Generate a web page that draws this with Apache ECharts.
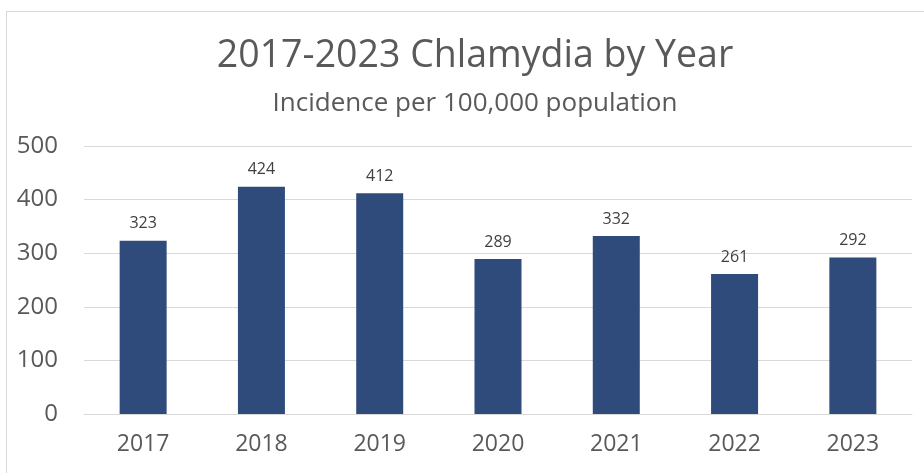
<!DOCTYPE html>
<html><head><meta charset="utf-8">
<script src="https://cdn.jsdelivr.net/npm/echarts@6/dist/echarts.min.js"></script>
<style>html,body{margin:0;padding:0;background:#fff}#c{width:924px;height:473px}
#frame{position:absolute;left:6px;top:11px;width:930px;height:480px;border-left:1px solid #d9d9d9;border-top:1px solid #d9d9d9;pointer-events:none}</style>
</head><body><div id="c"></div><div id="frame"></div>
<script>
const categories = ['2017','2018','2019','2020','2021','2022','2023'];
const incidence = [323, 424, 412, 289, 332, 261, 292];
const yTicks = {min:0, max:500, interval:100};
const titleText = '2017-2023 Chlamydia by Year';
const subtitleText = 'Incidence per 100,000 population';

const chart = echarts.init(document.getElementById('c'));
chart.setOption({
  animation:false,
  backgroundColor:'#fff',
  title:{
    text:titleText, subtext:subtitleText, left:470, textAlign:'center', top:32, itemGap:16,
    textStyle:{fontFamily:'Open Sans', fontSize:37.5, fontWeight:'normal', color:'#595959'},
    subtextStyle:{fontFamily:'Open Sans', fontSize:26, color:'#595959'}
  },
  grid:{left:84, right:12, top:146, bottom:59, containLabel:false},
  xAxis:{
    type:'category', data:categories,
    axisLine:{lineStyle:{color:'#d9d9d9'}}, axisTick:{show:false},
    axisLabel:{fontFamily:'Open Sans', fontSize:23, color:'#595959', margin:19}
  },
  yAxis:{
    type:'value', min:yTicks.min, max:yTicks.max, interval:yTicks.interval,
    axisLine:{show:false}, axisTick:{show:false},
    splitLine:{lineStyle:{color:'#d9d9d9'}},
    axisLabel:{fontFamily:'Open Sans', fontSize:24, color:'#595959', margin:26}
  },
  series:[{
    type:'bar', data:incidence, barWidth:47,
    itemStyle:{color:'#2F4B7C'},
    label:{show:true, position:'top', distance:9, fontFamily:'Open Sans', fontSize:16, color:'#404040'}
  }]
});
</script></body></html>
